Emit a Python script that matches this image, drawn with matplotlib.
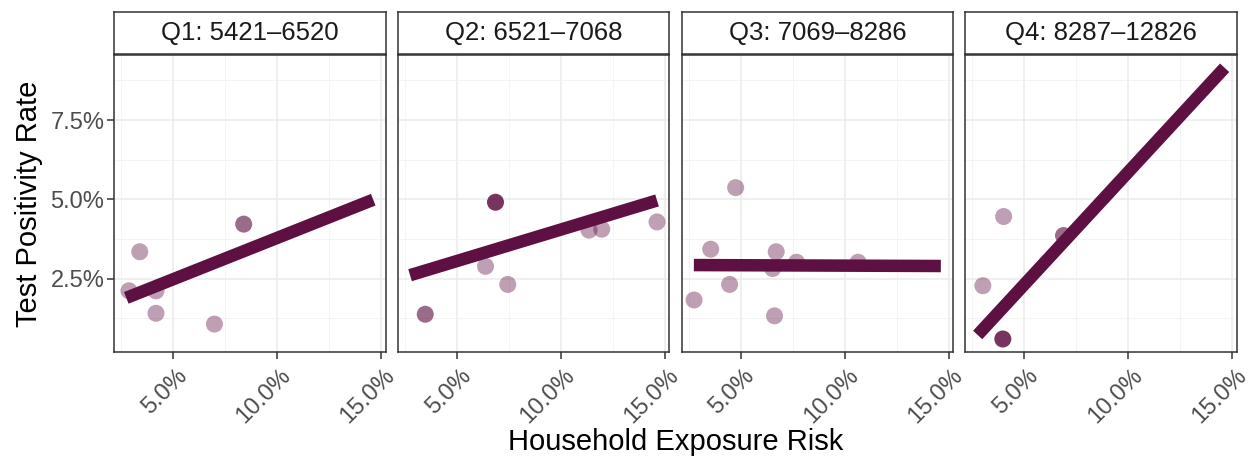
import matplotlib
matplotlib.use('Agg')
import matplotlib.pyplot as plt
import matplotlib.transforms as mtransforms
from matplotlib.ticker import FixedLocator, FuncFormatter

plt.rcParams['font.family'] = ['Liberation Sans', 'DejaVu Sans']

# facet labels
quartiles = ['Q1: 5421\u20136520', 'Q2: 6521\u20137068', 'Q3: 7069\u20138286', 'Q4: 8287\u201312826']

# household exposure risk (%) per point, per quartile
exposure = [
    [2.88, 3.40, 4.18, 4.18, 6.99, 8.40],
    [3.48, 6.86, 6.38, 7.45, 11.36, 11.97, 14.63],
    [4.76, 3.56, 6.71, 7.69, 10.65, 6.54, 4.47, 2.76, 6.63],
    [4.00, 3.00, 6.88, 3.96],
]
# test positivity rate (%)
positivity = [
    [2.12, 3.35, 2.12, 1.41, 1.07, 4.22],
    [1.38, 4.91, 2.89, 2.32, 4.03, 4.06, 4.29],
    [5.37, 3.43, 3.35, 3.02, 3.02, 2.82, 2.32, 1.83, 1.33],
    [4.46, 2.28, 3.86, 0.60],
]
# point opacity (weight)
weight = [
    [0.4, 0.4, 0.4, 0.4, 0.4, 0.62],
    [0.62, 0.85, 0.4, 0.4, 0.4, 0.4, 0.4],
    [0.4, 0.4, 0.4, 0.4, 0.4, 0.4, 0.4, 0.4, 0.4],
    [0.4, 0.4, 0.62, 0.85],
]
# fitted lines: intercept, slope (in % units)
fit_intercept = [1.18, 2.065, 2.937, -1.222]
fit_slope = [0.2604, 0.1983, -0.0025, 0.7088]
fit_x = [2.75, 14.63]

x_ticks = [5, 10, 15]
y_ticks = [2.5, 5.0, 7.5]
x_lim = (2.16, 15.22)
y_lim = (0.2, 9.55)

col = '#5E1042'
W, H = 1253, 463
fig = plt.figure(figsize=(W / 100, H / 100), dpi=100)

left0, pw, gap = 114, 271.5, 12.3
top, bottom = 55, 351.7
pct = FuncFormatter(lambda v, p: f'{v:.1f}%')
shift = mtransforms.ScaledTranslation(3 / 100, -3 / 100, fig.dpi_scale_trans)

for i, q in enumerate(quartiles):
    l = left0 + i * (pw + gap)
    ax = fig.add_axes([l / W, 1 - bottom / H, pw / W, (bottom - top) / H])
    ax.set_xlim(*x_lim)
    ax.set_ylim(*y_lim)
    ax.xaxis.set_major_locator(FixedLocator(x_ticks))
    ax.yaxis.set_major_locator(FixedLocator(y_ticks))
    ax.xaxis.set_minor_locator(FixedLocator([2.5, 7.5, 12.5]))
    ax.yaxis.set_minor_locator(FixedLocator([1.25, 3.75, 6.25, 8.75]))
    ax.xaxis.set_major_formatter(pct)
    ax.yaxis.set_major_formatter(pct)
    ax.grid(which='major', color='#EBEBEB', lw=1.1, zorder=0)
    ax.grid(which='minor', color='#F2F2F2', lw=0.6, zorder=0)
    ax.set_axisbelow(True)
    for s in ax.spines.values():
        s.set_color('#333333')
        s.set_linewidth(1.1)
    ax.tick_params(which='major', length=5, width=1.1, color='#333333',
                   labelsize=17, labelcolor='#4D4D4D', pad=2)
    ax.tick_params(which='minor', length=0)
    for lab in ax.get_xticklabels():
        lab.set_rotation(45)
        lab.set_ha('right')
        lab.set_va('top')
        lab.set_rotation_mode('anchor')
        lab.set_transform(lab.get_transform() + shift)
    if i > 0:
        ax.tick_params(axis='y', labelleft=False, length=0)

    for x, y, a in zip(exposure[i], positivity[i], weight[i]):
        ax.scatter(x, y, s=150, color=col, alpha=a, edgecolors='none', zorder=2)
    ys = [fit_intercept[i] + fit_slope[i] * x for x in fit_x]
    ax.plot(fit_x, ys, color=col, lw=9, solid_capstyle='butt', zorder=3)

    if i == 0:
        ax.set_ylabel('Test Positivity Rate', fontsize=21, labelpad=5)

    sx = fig.add_axes([l / W, 1 - 54 / H, pw / W, 42 / H])
    sx.set_xticks([])
    sx.set_yticks([])
    for s in sx.spines.values():
        s.set_color('#333333')
        s.set_linewidth(1.1)
    sx.text(0.5, 0.5, q, ha='center', va='center', fontsize=18.5,
            color='#1A1A1A', transform=sx.transAxes)

fig.text(675.5 / W, 1 - 442 / H, 'Household Exposure Risk', ha='center',
         va='center', fontsize=21)

fig.savefig('out.png', dpi=100)
